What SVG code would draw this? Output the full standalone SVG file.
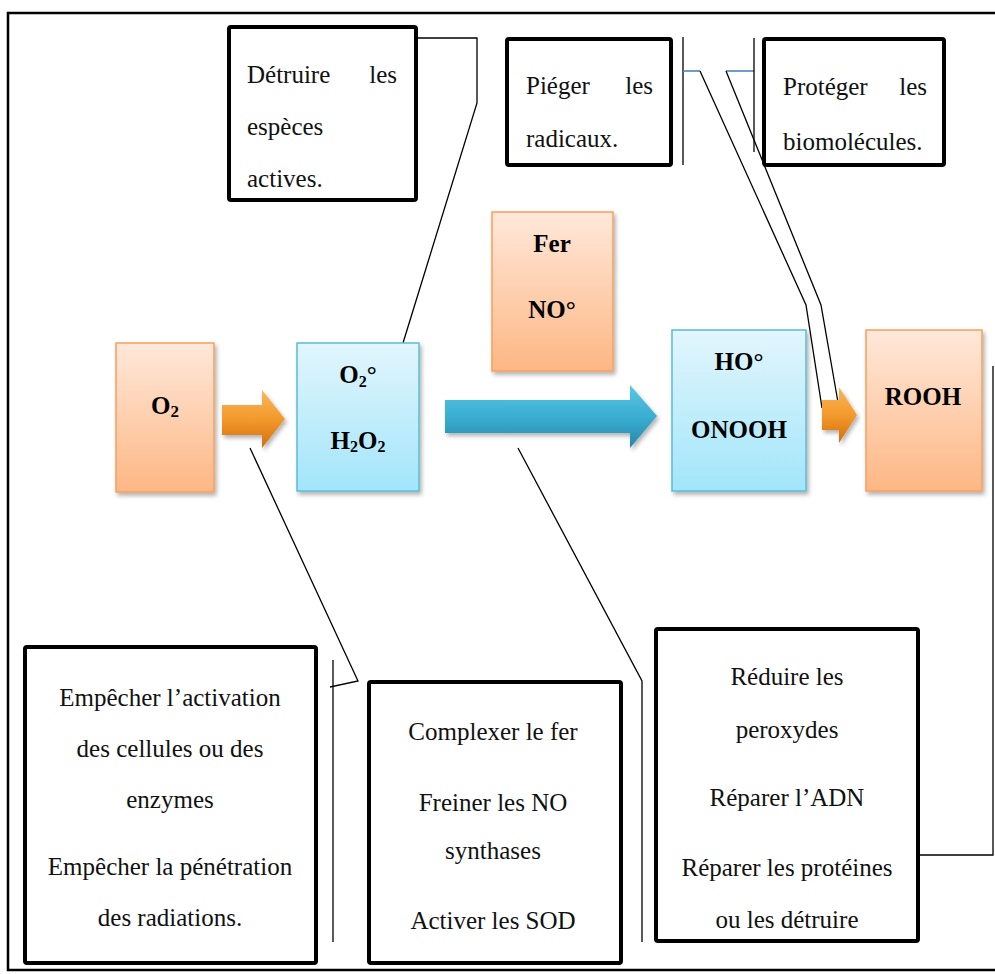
<svg xmlns="http://www.w3.org/2000/svg" width="995" height="974" viewBox="0 0 995 974">
<defs>
<linearGradient id="gOr" x1="0" y1="0" x2="0" y2="1"><stop offset="0" stop-color="#FFE8DA"/><stop offset="1" stop-color="#FDB784"/></linearGradient>
<linearGradient id="gBl" x1="0" y1="0" x2="0" y2="1"><stop offset="0" stop-color="#E2F6FD"/><stop offset="1" stop-color="#A2E5FA"/></linearGradient>
<linearGradient id="gArO" x1="0" y1="0" x2="0" y2="1"><stop offset="0" stop-color="#FBB65A"/><stop offset="0.5" stop-color="#F39A2C"/><stop offset="1" stop-color="#D46E0C"/></linearGradient>
<linearGradient id="gArB" x1="0" y1="0" x2="0" y2="1"><stop offset="0" stop-color="#5CC6E3"/><stop offset="0.5" stop-color="#3AAED1"/><stop offset="1" stop-color="#2588AB"/></linearGradient>
<filter id="sh" x="-10%" y="-10%" width="130%" height="130%"><feDropShadow dx="2" dy="3" stdDeviation="2" flood-color="#000" flood-opacity="0.3"/></filter>
</defs>
<style>
.or{fill:url(#gOr);stroke:#F7A05C;stroke-width:1.5;filter:url(#sh)}
.bl{fill:url(#gBl);stroke:#5BBCD6;stroke-width:1.5;filter:url(#sh)}
.box{fill:#fff;stroke:#000;stroke-width:4}
.lbl{font-family:"Liberation Serif",serif;font-weight:bold;font-size:25px;fill:#000;text-anchor:middle}
.t{font-family:"Liberation Serif",serif;font-size:25px;fill:#111}
.c{text-anchor:middle}
.e{text-anchor:end}
.ln{fill:none;stroke:#000;stroke-width:1.3}
.bln{fill:none;stroke:#4F81BD;stroke-width:1.6}
</style>
<rect x="8" y="13" width="992" height="957" fill="#fff" stroke="#000" stroke-width="2.5"/>

<g id="connectors">
<polyline class="ln" points="418,38 477,38 477,103 403,343"/>
<line class="ln" x1="683" y1="37" x2="683" y2="165"/>
<line class="bln" x1="683" y1="71" x2="700" y2="71"/>
<polyline class="ln" points="700,71 806,305 822,408"/>
<line class="bln" x1="726" y1="71" x2="754" y2="71"/>
<polyline class="ln" points="726,71 821,305 839,408"/>
<line class="ln" x1="754" y1="38" x2="754" y2="152"/>
<polyline class="ln" points="250,448 358,681 330,687"/>
<line class="ln" x1="333" y1="660" x2="333" y2="942"/>
<polyline class="ln" points="518,448 642,681 642,942"/>
<polyline class="ln" points="920,855 993,855 993,366"/>
</g>

<g id="arrow1"><polygon points="222,405 262,405 262,390 285,419 262,448 262,435 222,435" fill="url(#gArO)" filter="url(#sh)"/></g>
<g id="arrow2"><polygon points="445,400 630,400 630,385 657,416 630,448 630,433 445,433" fill="url(#gArB)" filter="url(#sh)"/></g>
<g id="arrow3"><polygon points="822,400 839,400 839,387 857,415 839,443 839,430 822,430" fill="url(#gArO)" filter="url(#sh)"/></g>

<g id="n-o2"><rect class="or" x="116" y="343" width="98" height="149"/>
<text class="lbl" x="165" y="414" font-size="26">O<tspan font-size="17" dy="3">2</tspan></text></g>

<g id="n-o2h2o2"><rect class="bl" x="297" y="343" width="122" height="148"/>
<text class="lbl" x="358" y="383" font-size="24">O<tspan font-size="16" dy="4">2</tspan><tspan dy="-4">°</tspan></text>
<text class="lbl" x="358" y="449" font-size="24">H<tspan font-size="16" dy="3">2</tspan><tspan dy="-3">O</tspan><tspan font-size="16" dy="3">2</tspan></text></g>

<g id="n-fer"><rect class="or" x="492" y="212" width="121" height="159"/>
<text class="lbl" x="552" y="252">Fer</text>
<text class="lbl" x="552" y="318">NO°</text></g>

<g id="n-ho"><rect class="bl" x="672" y="330" width="134" height="161"/>
<text class="lbl" x="739" y="370">HO°</text>
<text class="lbl" x="739" y="438">ONOOH</text></g>

<g id="n-rooh"><rect class="or" x="866" y="330" width="116" height="161"/>
<text class="lbl" x="923" y="405">ROOH</text></g>

<g id="n-detruire"><rect class="box" x="229" y="27" width="187" height="173" rx="2"/>
<text class="t" x="247" y="83">Détruire</text><text class="t e" x="397" y="83">les</text>
<text class="t" x="247" y="135">espèces</text>
<text class="t" x="247" y="187">actives.</text></g>

<g id="n-pieger"><rect class="box" x="507" y="39" width="164" height="126" rx="2"/>
<text class="t" x="526" y="94">Piéger</text><text class="t e" x="653" y="94">les</text>
<text class="t" x="526" y="147">radicaux.</text></g>

<g id="n-proteger"><rect class="box" x="764" y="39" width="180" height="126" rx="2"/>
<text class="t" x="783" y="95">Protéger</text><text class="t e" x="927" y="95">les</text>
<text class="t" x="783" y="150">biomolécules.</text></g>

<g id="n-empecher"><rect class="box" x="25" y="647" width="291" height="316" rx="2"/>
<text class="t c" x="170" y="706">Empêcher l’activation</text>
<text class="t c" x="170" y="757">des cellules ou des</text>
<text class="t c" x="170" y="808">enzymes</text>
<text class="t c" x="170" y="875">Empêcher la pénétration</text>
<text class="t c" x="170" y="926">des radiations.</text></g>

<g id="n-complexer"><rect class="box" x="369" y="682" width="252" height="281" rx="2"/>
<text class="t c" x="493" y="740">Complexer le fer</text>
<text class="t c" x="493" y="811">Freiner les NO</text>
<text class="t c" x="493" y="859">synthases</text>
<text class="t c" x="493" y="929">Activer les SOD</text></g>

<g id="n-reduire"><rect class="box" x="656" y="629" width="262" height="312" rx="2"/>
<text class="t c" x="787" y="685">Réduire les</text>
<text class="t c" x="787" y="738">peroxydes</text>
<text class="t c" x="787" y="806">Réparer l’ADN</text>
<text class="t c" x="787" y="876">Réparer les protéines</text>
<text class="t c" x="787" y="928">ou les détruire</text></g>
</svg>
